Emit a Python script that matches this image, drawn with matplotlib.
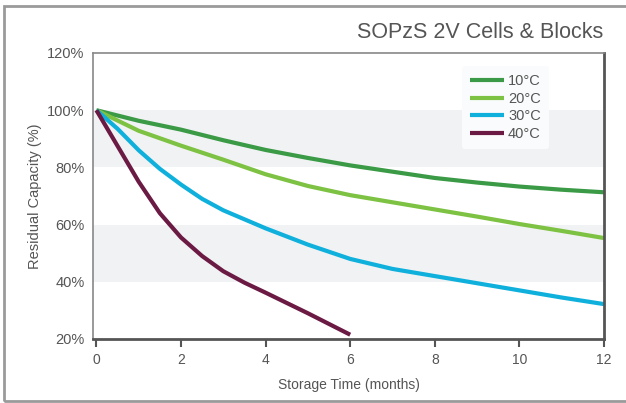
import matplotlib
matplotlib.use("Agg")
import matplotlib.pyplot as plt
from matplotlib.patches import Rectangle

plt.rcParams['font.family'] = ['Liberation Sans', 'DejaVu Sans']

months = [0, 1, 2, 3, 4, 5, 6, 7, 8, 9, 10, 11, 12]
cap_10 = [100, 96.3, 93.2, 89.5, 86.1, 83.3, 80.7, 78.5, 76.3, 74.7, 73.3, 72.2, 71.3]
cap_20 = [100, 92.8, 87.6, 82.7, 77.6, 73.5, 70.3, 67.8, 65.3, 62.8, 60.2, 57.8, 55.3]
months_30 = [0, 0.5, 1, 1.5, 2, 2.5, 3, 4, 5, 6, 7, 8, 9, 10, 11, 12]
cap_30 = [100, 93.5, 86, 79.5, 74, 69, 65, 58.7, 53, 48, 44.5, 42, 39.5, 37, 34.5, 32.2]
months_40 = [0, 0.5, 1, 1.5, 2, 2.5, 3, 3.5, 4, 5, 6]
cap_40 = [100, 87.5, 75, 64, 55.5, 49, 43.7, 39.7, 36.2, 29, 21.5]

labels = ['10°C', '20°C', '30°C', '40°C']
colors = ['#3a9a45', '#7dc242', '#0fb0dc', '#6b1a44']

W, H = 626, 403
fig = plt.figure(figsize=(W / 100, H / 100), dpi=100)
ax = fig.add_axes([93 / W, 1 - 339 / H, (604 - 93) / W, (339 - 53) / H])

# grey bands
ax.axhspan(80, 100, color='#f1f2f4', zorder=0, lw=0)
ax.axhspan(40, 60, color='#f1f2f4', zorder=0, lw=0)

lw = 3.0
ax.plot(months, cap_10, color=colors[0], lw=lw, label=labels[0], solid_capstyle='butt')
ax.plot(months, cap_20, color=colors[1], lw=lw, label=labels[1], solid_capstyle='butt')
ax.plot(months_30, cap_30, color=colors[2], lw=lw, label=labels[2], solid_capstyle='butt')
ax.plot(months_40, cap_40, color=colors[3], lw=lw, label=labels[3], solid_capstyle='butt')

ax.set_xlim(-0.08, 12)
ax.set_ylim(20, 120)
ax.set_xticks([0, 2, 4, 6, 8, 10, 12])
ax.set_yticks([20, 40, 60, 80, 100, 120])
ax.set_yticklabels([f'{v}%' for v in [20, 40, 60, 80, 100, 120]])

txt = '#555555'
ax.tick_params(axis='x', direction='out', length=6, width=1.5, color='#555555',
               labelsize=10, labelcolor=txt, pad=4)
ax.tick_params(axis='y', length=0, labelsize=10.5, labelcolor=txt, pad=6)

for s in ['left', 'top']:
    ax.spines[s].set_color('#888888')
    ax.spines[s].set_linewidth(1.2)
for s in ['bottom', 'right']:
    ax.spines[s].set_color('#555555')
    ax.spines[s].set_linewidth(2)

ax.set_xlabel('Storage Time (months)', fontsize=10, color=txt, labelpad=8,
              family=['Liberation Sans Narrow', 'Liberation Sans'])
ax.set_ylabel('Residual Capacity (%)', fontsize=10.5, color=txt, labelpad=4)

leg = ax.legend(loc='upper left', bbox_to_anchor=(0.708, 0.98), frameon=True,
                fontsize=10.5, handlelength=2.3, handletextpad=0.3,
                labelspacing=0.25, borderpad=0.55)
leg.get_frame().set_facecolor('#fafbfd')
leg.get_frame().set_edgecolor('none')
leg.get_frame().set_alpha(1)
for t in leg.get_texts():
    t.set_color(txt)

fig.text(603 / W, 1 - 33 / H, 'SOPzS 2V Cells & Blocks', ha='right', va='center',
         fontsize=15.5, color='#555555')

# outer frame
fig.patches.append(Rectangle((4 / W, 1 - 401 / H), (640 - 4) / W, (401 - 6) / H,
                             transform=fig.transFigure, fill=False,
                             edgecolor='#9a9a9a', lw=2, zorder=10))

fig.savefig('out.png', dpi=100)
